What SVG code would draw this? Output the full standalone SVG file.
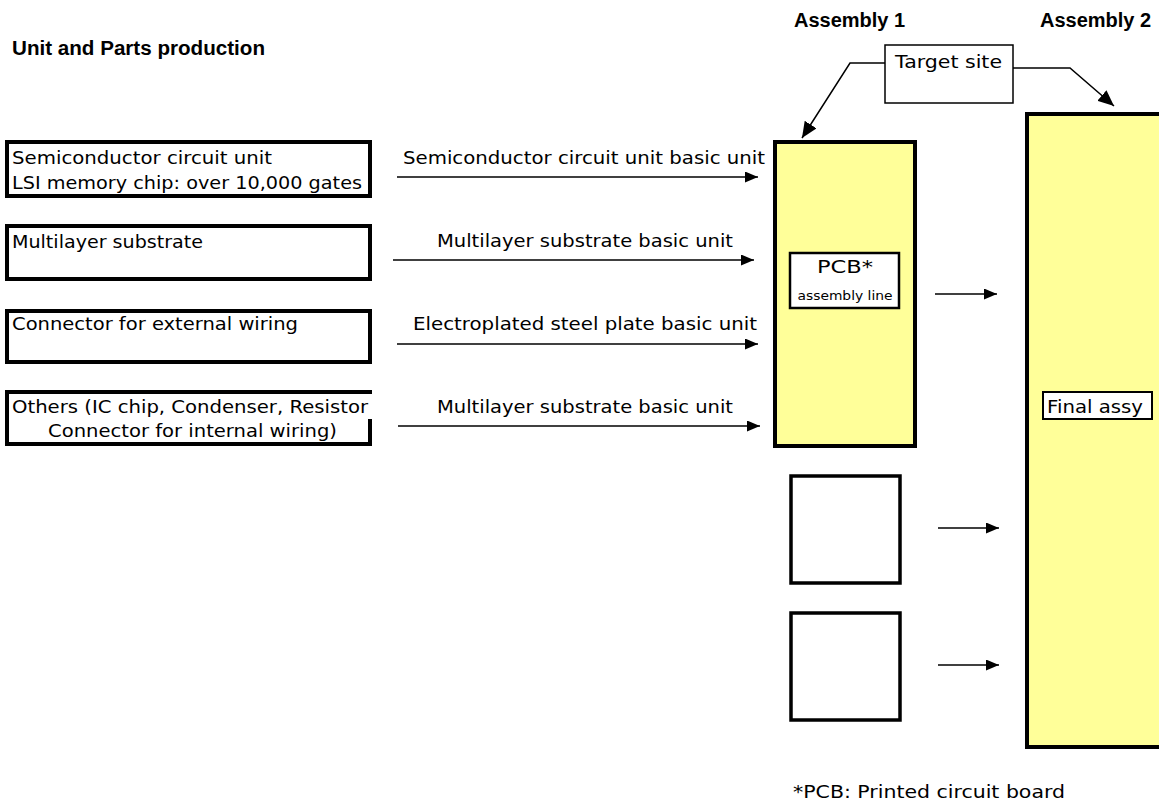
<svg xmlns="http://www.w3.org/2000/svg" width="1159" height="805" viewBox="0 0 1159 805">
<style>
.t{font-family:"DejaVu Sans","Liberation Sans",sans-serif;font-size:18px;fill:#000}
.b{font-family:"Liberation Sans",Arial,sans-serif;font-size:20px;font-weight:bold;fill:#000}
.s{font-family:"DejaVu Sans","Liberation Sans",sans-serif;font-size:12px;fill:#000}
.box{fill:#fff;stroke:#000;stroke-width:4}
.ybox{fill:#ffff99;stroke:#000;stroke-width:4}
.thin{fill:#fff;stroke:#000;stroke-width:1.5}
.ln{fill:none;stroke:#000;stroke-width:1.5}
</style>
<defs>
<marker id="ah" markerUnits="userSpaceOnUse" markerWidth="13" markerHeight="11" refX="13" refY="5.5" orient="auto"><path d="M0,0 L13,5.5 L0,11 z" fill="#000"/></marker>
<marker id="ahL" markerUnits="userSpaceOnUse" markerWidth="16" markerHeight="14" refX="16" refY="7" orient="auto"><path d="M0,0 L16,7 L0,14 z" fill="#000"/></marker>
</defs>
<rect width="1159" height="805" fill="#fff"/>
<g id="headers">
<text class="b" x="12" y="55" textLength="253" lengthAdjust="spacingAndGlyphs">Unit and Parts production</text>
<text class="b" x="794" y="27">Assembly 1</text>
<text class="b" x="1040" y="27">Assembly 2</text>
</g>
<g id="src1">
<rect class="box" x="7" y="142" width="363" height="54"/>
<text class="t" x="12" y="164" textLength="260" lengthAdjust="spacingAndGlyphs">Semiconductor circuit unit</text>
<text class="t" x="12" y="189" textLength="350" lengthAdjust="spacingAndGlyphs">LSI memory chip: over 10,000 gates</text>
</g>
<g id="src2">
<rect class="box" x="7" y="226" width="363" height="53"/>
<text class="t" x="12" y="248" textLength="191" lengthAdjust="spacingAndGlyphs">Multilayer substrate</text>
</g>
<g id="src3">
<rect class="box" x="7" y="311" width="363" height="51"/>
<text class="t" x="12" y="330" textLength="286" lengthAdjust="spacingAndGlyphs">Connector for external wiring</text>
</g>
<g id="src4">
<path class="box" d="M370,419 L370,444 L7,444 L7,392 L372,392" fill="#fff"/>
<text class="t" x="12" y="413" textLength="356" lengthAdjust="spacingAndGlyphs">Others (IC chip, Condenser, Resistor</text>
<text class="t" x="48" y="437" textLength="289" lengthAdjust="spacingAndGlyphs">Connector for internal wiring)</text>
</g>
<g id="target">
<rect class="thin" x="885" y="45" width="128" height="58"/>
<text class="t" x="895" y="68" textLength="107" lengthAdjust="spacingAndGlyphs">Target site</text>
</g>
<g id="assembly1">
<rect class="ybox" x="775" y="142" width="140" height="304"/>
</g>
<g id="pcb">
<rect x="790" y="253" width="109" height="55" fill="#fff" stroke="#000" stroke-width="2.5"/>
<text class="t" x="845" y="273" text-anchor="middle" textLength="56" lengthAdjust="spacingAndGlyphs">PCB*</text>
<text class="s" x="845" y="300" text-anchor="middle" textLength="95" lengthAdjust="spacingAndGlyphs">assembly line</text>
</g>
<g id="unitA">
<rect x="791" y="476" width="109" height="107" fill="#fff" stroke="#000" stroke-width="3.5"/>
</g>
<g id="unitB">
<rect x="791" y="613" width="109" height="107" fill="#fff" stroke="#000" stroke-width="3.5"/>
</g>
<g id="assembly2">
<rect class="ybox" x="1027" y="114" width="140" height="633"/>
<rect x="1043" y="392" width="109" height="27" fill="#fff" stroke="#000" stroke-width="2"/>
<text class="t" x="1047" y="413" textLength="96" lengthAdjust="spacingAndGlyphs">Final assy</text>
</g>
<g id="connectors">
<line class="ln" x1="397" y1="177" x2="758" y2="177" stroke="#333" stroke-width="2" marker-end="url(#ah)"/>
<text class="t" x="403" y="164" textLength="362" lengthAdjust="spacingAndGlyphs">Semiconductor circuit unit basic unit</text>
<line class="ln" x1="393" y1="260" x2="754" y2="260" marker-end="url(#ah)"/>
<text class="t" x="437" y="247" textLength="296" lengthAdjust="spacingAndGlyphs">Multilayer substrate basic unit</text>
<line class="ln" x1="397" y1="344" x2="758" y2="344" marker-end="url(#ah)"/>
<text class="t" x="413" y="330" textLength="344" lengthAdjust="spacingAndGlyphs">Electroplated steel plate basic unit</text>
<line class="ln" x1="398" y1="426" x2="760" y2="426" marker-end="url(#ah)"/>
<text class="t" x="437" y="413" textLength="296" lengthAdjust="spacingAndGlyphs">Multilayer substrate basic unit</text>
<line class="ln" x1="935" y1="294" x2="997" y2="294" marker-end="url(#ah)"/>
<line class="ln" x1="938" y1="528" x2="999" y2="528" marker-end="url(#ah)"/>
<line class="ln" x1="938" y1="665" x2="999" y2="665" marker-end="url(#ah)"/>
<polyline class="ln" points="885,63 850,63 802,138" marker-end="url(#ahL)"/>
<polyline class="ln" points="1013,68 1070,68 1114,106" marker-end="url(#ahL)"/>
</g>
<g id="footnote">
<text class="t" x="793" y="798" textLength="272" lengthAdjust="spacingAndGlyphs">*PCB: Printed circuit board</text>
</g>
</svg>
